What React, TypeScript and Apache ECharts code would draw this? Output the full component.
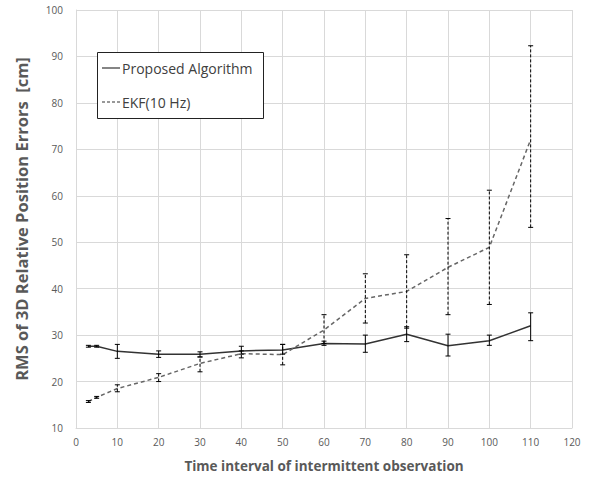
import React, { useEffect, useRef } from "react";
import * as echarts from "echarts";

const xs = [3, 5, 10, 20, 30, 40, 50, 60, 70, 80, 90, 100, 110];
const proposed = [27.6, 27.6, 26.5, 25.9, 25.9, 26.6, 26.8, 28.2, 28.1, 30.2, 27.7, 28.8, 32.0];
const proposedLow = [27.4, 27.4, 25.0, 25.2, 25.3, 25.9, 25.9, 27.8, 26.3, 28.6, 25.5, 27.8, 28.8];
const proposedHigh = [27.8, 27.8, 28.0, 26.6, 26.4, 27.6, 28.0, 28.7, 30.0, 31.8, 30.2, 30.0, 34.8];
const ekf = [15.7, 16.6, 18.5, 20.9, 23.9, 26.0, 25.8, 31.1, 37.9, 39.4, 44.6, 48.9, 72.1];
const ekfLow = [15.5, 16.4, 17.8, 20.0, 22.1, 25.1, 23.6, 28.2, 32.6, 31.5, 34.4, 36.6, 53.2];
const ekfHigh = [15.9, 16.8, 19.3, 21.7, 25.3, 26.6, 28.0, 34.4, 43.2, 47.3, 55.1, 61.2, 92.3];
const seriesNames = ["Proposed Algorithm", "EKF(10 Hz)"];
const xTitle = "Time interval of intermittent observation";
const yTitle = "RMS of 3D Relative Position Errors  [cm]";

const FONT = "'Open Sans', 'Noto Sans', sans-serif";

function errorBar(dashed: boolean) {
  return (params: any, api: any) => {
    const x = api.value(0);
    const lo = api.coord([x, api.value(1)]);
    const hi = api.coord([x, api.value(2)]);
    const cap = 2.5;
    const style: any = { stroke: "#000", lineWidth: 1 };
    const vStyle: any = dashed ? { ...style, lineDash: [3, 2] } : style;
    return {
      type: "group",
      children: [
        { type: "line", shape: { x1: lo[0], y1: lo[1], x2: hi[0], y2: hi[1] }, style: vStyle },
        { type: "line", shape: { x1: lo[0] - cap, y1: lo[1], x2: lo[0] + cap, y2: lo[1] }, style },
        { type: "line", shape: { x1: hi[0] - cap, y1: hi[1], x2: hi[0] + cap, y2: hi[1] }, style },
      ],
    };
  };
}

export default function App() {
  const ref = useRef<HTMLDivElement>(null);
  useEffect(() => {
    if (!ref.current) return;
    const chart = echarts.init(ref.current, undefined, { renderer: "svg" });
    const gridColor = "#d9d9d9";
    const labelColor = "#595959";
    chart.setOption({
      animation: false,
      backgroundColor: "#fff",
      grid: { left: 76, right: 19, top: 10, bottom: 45 },
      xAxis: {
        type: "value",
        min: 0,
        max: 120,
        interval: 10,
        name: xTitle,
        nameLocation: "middle",
        nameGap: 31,
        nameTextStyle: { fontFamily: FONT, fontSize: 13.5, fontWeight: "bold", color: labelColor },
        axisLine: { show: true, lineStyle: { color: gridColor } },
        axisTick: { show: false },
        axisLabel: { fontFamily: FONT, fontSize: 10, color: labelColor, margin: 9 },
        splitLine: { show: true, lineStyle: { color: gridColor } },
      },
      yAxis: {
        type: "value",
        min: 10,
        max: 100,
        interval: 10,
        name: yTitle,
        nameLocation: "middle",
        nameGap: 46,
        nameTextStyle: { fontFamily: FONT, fontSize: 16.5, fontWeight: "bold", color: labelColor },
        axisLine: { show: true, lineStyle: { color: gridColor } },
        axisTick: { show: false },
        axisLabel: { fontFamily: FONT, fontSize: 10, color: labelColor, margin: 13 },
        splitLine: { show: true, lineStyle: { color: gridColor } },
      },
      series: [
        {
          name: seriesNames[0],
          type: "line",
          data: xs.map((x, i) => [x, proposed[i]]),
          showSymbol: false,
          lineStyle: { color: "#333333", width: 1.5, type: "solid" },
          z: 3,
        },
        {
          name: seriesNames[1],
          type: "line",
          data: xs.map((x, i) => [x, ekf[i]]),
          showSymbol: false,
          lineStyle: { color: "#666666", width: 1.5, type: [4, 3] },
          z: 3,
        },
        {
          type: "custom",
          renderItem: errorBar(false),
          data: xs.map((x, i) => [x, proposedLow[i], proposedHigh[i]]),
          encode: { x: 0, y: [1, 2] },
          z: 4,
        },
        {
          type: "custom",
          renderItem: errorBar(true),
          data: xs.map((x, i) => [x, ekfLow[i], ekfHigh[i]]),
          encode: { x: 0, y: [1, 2] },
          z: 4,
        },
      ],
      graphic: [
        {
          type: "rect",
          shape: { x: 97.5, y: 52.5, width: 166, height: 66 },
          style: { fill: "#fff", stroke: "#222", lineWidth: 1 },
          z: 10,
        },
        {
          type: "line",
          shape: { x1: 102, y1: 68, x2: 120, y2: 68 },
          style: { stroke: "#333", lineWidth: 1.2 },
          z: 11,
        },
        {
          type: "text",
          x: 122,
          y: 68,
          style: { text: seriesNames[0], fontFamily: FONT, fontSize: 14, fill: "#404040", verticalAlign: "middle" },
          z: 11,
        },
        {
          type: "line",
          shape: { x1: 102, y1: 102, x2: 120, y2: 102 },
          style: { stroke: "#333", lineWidth: 1.2, lineDash: [3, 2] },
          z: 11,
        },
        {
          type: "text",
          x: 122,
          y: 102,
          style: { text: seriesNames[1], fontFamily: FONT, fontSize: 14, fill: "#404040", verticalAlign: "middle" },
          z: 11,
        },
      ],
    });
    return () => chart.dispose();
  }, []);
  return <div ref={ref} style={{ width: 591, height: 478, position: "absolute", left: 0, top: 0 }} />;
}
